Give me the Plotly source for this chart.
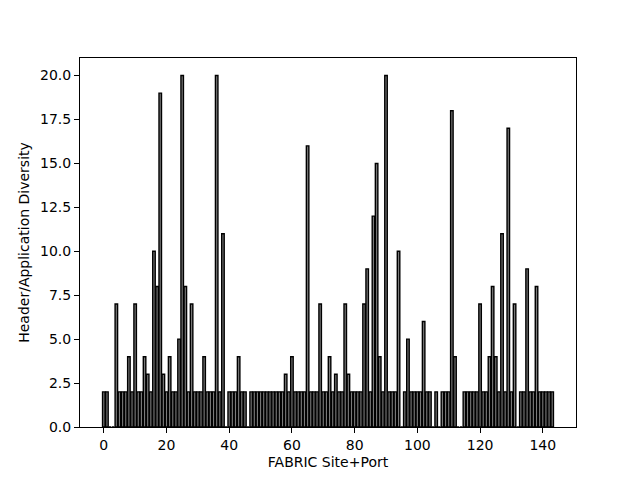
import plotly.graph_objects as go

site_port = list(range(144))
diversity = [
    2, 2, 0, 0, 7, 2, 2, 2, 4, 2,
    7, 2, 2, 4, 3, 2, 10, 8, 19, 3,
    2, 4, 2, 2, 5, 20, 8, 2, 7, 2,
    2, 2, 4, 2, 2, 2, 20, 2, 11, 0,
    2, 2, 2, 4, 2, 2, 0, 2, 2, 2,
    2, 2, 2, 2, 2, 2, 2, 2, 3, 2,
    4, 2, 2, 2, 2, 16, 2, 2, 2, 7,
    2, 2, 4, 2, 3, 2, 2, 7, 3, 2,
    2, 2, 2, 7, 9, 2, 12, 15, 4, 2,
    20, 2, 2, 2, 10, 0, 2, 5, 2, 2,
    2, 2, 6, 2, 2, 0, 2, 0, 2, 2,
    2, 18, 4, 0, 0, 2, 2, 2, 2, 2,
    7, 2, 2, 4, 8, 4, 2, 11, 2, 17,
    2, 7, 0, 2, 2, 9, 2, 2, 8, 2,
    2, 2, 2, 2,
]

x_ticks = [0, 20, 40, 60, 80, 100, 120, 140]
y_ticks = [0, 2.5, 5, 7.5, 10, 12.5, 15, 17.5, 20]

fig = go.Figure(
    go.Bar(
        x=site_port,
        y=diversity,
        width=0.8,
        marker=dict(color="#7a7a7a", line=dict(color="black", width=1.4)),
    )
)

font = dict(family="DejaVu Sans", size=14, color="black")
axis_common = dict(
    showgrid=False,
    zeroline=False,
    showline=True,
    linecolor="black",
    linewidth=1,
    mirror=True,
    ticks="outside",
    ticklen=5,
    tickwidth=1,
    tickcolor="black",
    tickfont=font,
    automargin=False,
)

# page body has an 8px margin, so the figure is sized/offset to compensate
fig.update_layout(
    width=632,
    height=472,
    margin=dict(l=72, r=64, t=50, b=53),
    paper_bgcolor="white",
    plot_bgcolor="white",
    showlegend=False,
    font=font,
    xaxis=dict(
        range=[-7.59, 150.59],
        tickvals=x_ticks,
        ticktext=[str(v) for v in x_ticks],
        title=dict(text="FABRIC Site+Port", font=font, standoff=5),
        **axis_common,
    ),
    yaxis=dict(
        range=[0, 21],
        tickvals=y_ticks,
        ticktext=[f"{v:.1f}" for v in y_ticks],
        title=dict(text="Header/Application Diversity", font=font, standoff=7),
        **axis_common,
    ),
)

fig.write_html("out.html")
